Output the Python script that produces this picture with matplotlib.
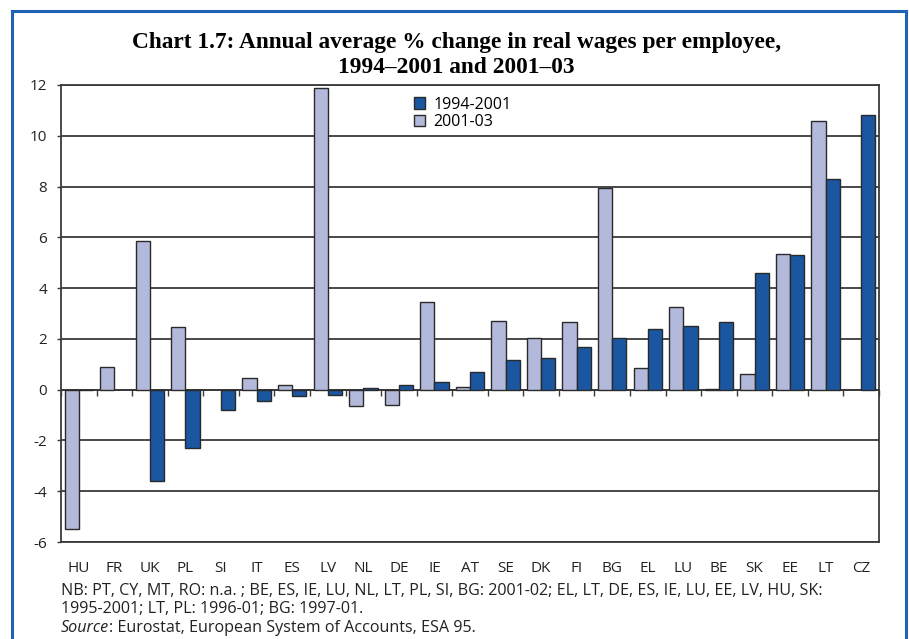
import matplotlib
matplotlib.use("Agg")
import matplotlib.pyplot as plt
import numpy as np

countries = ["HU", "FR", "UK", "PL", "SI", "IT", "ES", "LV", "NL", "DE", "IE", "AT",
             "SE", "DK", "FI", "BG", "EL", "LU", "BE", "SK", "EE", "LT", "CZ"]
s_2001_03 = [-5.5, 0.9, 5.85, 2.45, np.nan, 0.45, 0.2, 11.9, -0.65, -0.6, 3.45, 0.1,
             2.7, 2.05, 2.65, 7.95, 0.85, 3.25, 0.02, 0.6, 5.35, 10.6, np.nan]
s_1994_2001 = [0.0, np.nan, -3.6, -2.3, -0.8, -0.45, -0.25, -0.2, 0.08, 0.18, 0.3, 0.7,
               1.15, 1.25, 1.7, 2.05, 2.4, 2.5, 2.65, 4.6, 5.3, 8.3, 10.8]
yticks = [-6, -4, -2, 0, 2, 4, 6, 8, 10, 12]

title = "Chart 1.7: Annual average % change in real wages per employee,\n1994\u20132001 and 2001\u201303"
note1 = "NB: PT, CY, MT, RO: n.a. ; BE, ES, IE, LU, NL, LT, PL, SI, BG: 2001-02; EL, LT, DE, ES, IE, LU, EE, LV, HU, SK:"
note2 = "1995-2001; LT, PL: 1996-01; BG: 1997-01."

DARK = "#1b56a0"
LIGHT = "#b3b9db"
EDGE = "#2a2a2a"
GRID = "#3a3a3a"
FRAME = "#1e63b5"
TXT = "#222222"
font = "Open Sans"

fig = plt.figure(figsize=(9.09, 6.39), dpi=100)
fig.patch.set_facecolor("white")

# outer blue frame (open at the bottom)
top = 1 - 11/639
for xs, ys in [([12/909, 12/909], [0, top]),
               ([12/909, 906/909], [top, top]),
               ([906/909, 906/909], [0, top])]:
    fig.add_artist(plt.Line2D(xs, ys, transform=fig.transFigure, color=FRAME, lw=2.2))

ax = fig.add_axes([61/909, 1 - 542/639, (879 - 61)/909, (542 - 85)/639])
x = np.arange(len(countries))
w = 0.4
ax.bar(x - w/2, s_2001_03, w, color=LIGHT, edgecolor=EDGE, linewidth=1.0, label="2001-03", zorder=3)
ax.bar(x + w/2, s_1994_2001, w, color=DARK, edgecolor=EDGE, linewidth=1.0, label="1994-2001", zorder=3)

ax.set_xlim(-0.5, len(countries) - 0.5)
ax.set_ylim(-6, 12)
ax.set_yticks(yticks)
ax.set_yticklabels([str(v) for v in yticks], fontfamily=font, fontsize=11, color=TXT)
ax.yaxis.grid(True, color=GRID, linewidth=1.3, zorder=0)
ax.set_axisbelow(True)
ax.tick_params(axis="y", length=3, width=1, color=GRID, pad=7)

ax.set_xticks(x)
ax.set_xticklabels(countries, fontfamily=font, fontsize=11, color=TXT)
ax.tick_params(axis="x", length=0, pad=14)

for sp in ax.spines.values():
    sp.set_color(GRID)
    sp.set_linewidth(1.3)

# zero axis with category boundary ticks
sec = ax.secondary_xaxis(6/18)
sec.set_xticks(np.arange(len(countries) + 1) - 0.5)
sec.set_xticklabels([])
sec.tick_params(axis="x", length=4, width=1, color=GRID, direction="out")
sec.spines["bottom"].set_color(EDGE)
sec.spines["bottom"].set_linewidth(1.3)

# legend
handles, labels = ax.get_legend_handles_labels()
leg = ax.legend(handles[::-1], labels[::-1], loc="upper left", bbox_to_anchor=(0.414, 1.006),
                frameon=False, prop={"family": font, "size": 11.5},
                handlelength=0.7, handleheight=0.7, handletextpad=0.5, labelspacing=0.1,
                borderaxespad=0.5)

fig.text(0.502, 1 - 55/639, title, ha="center", va="center", fontfamily="Liberation Serif",
         fontweight="bold", fontsize=16.8, linespacing=1.2)

fs = 11.6
fig.text(61/909, 1 - 591/639, note1, ha="left", va="center", fontfamily=font, fontsize=fs, color=TXT)
fig.text(61/909, 1 - 609/639, note2, ha="left", va="center", fontfamily=font, fontsize=fs, color=TXT)
t = fig.text(61/909, 1 - 628/639, "Source", ha="left", va="center", fontfamily=font, fontsize=fs,
             style="italic", color=TXT)
fig.canvas.draw()
bb = t.get_window_extent()
fig.text(bb.x1 / fig.bbox.width, 1 - 628/639, ": Eurostat, European System of Accounts, ESA 95.",
         ha="left", va="center", fontfamily=font, fontsize=fs, color=TXT)

fig.savefig("out.png", dpi=100, facecolor="white")
